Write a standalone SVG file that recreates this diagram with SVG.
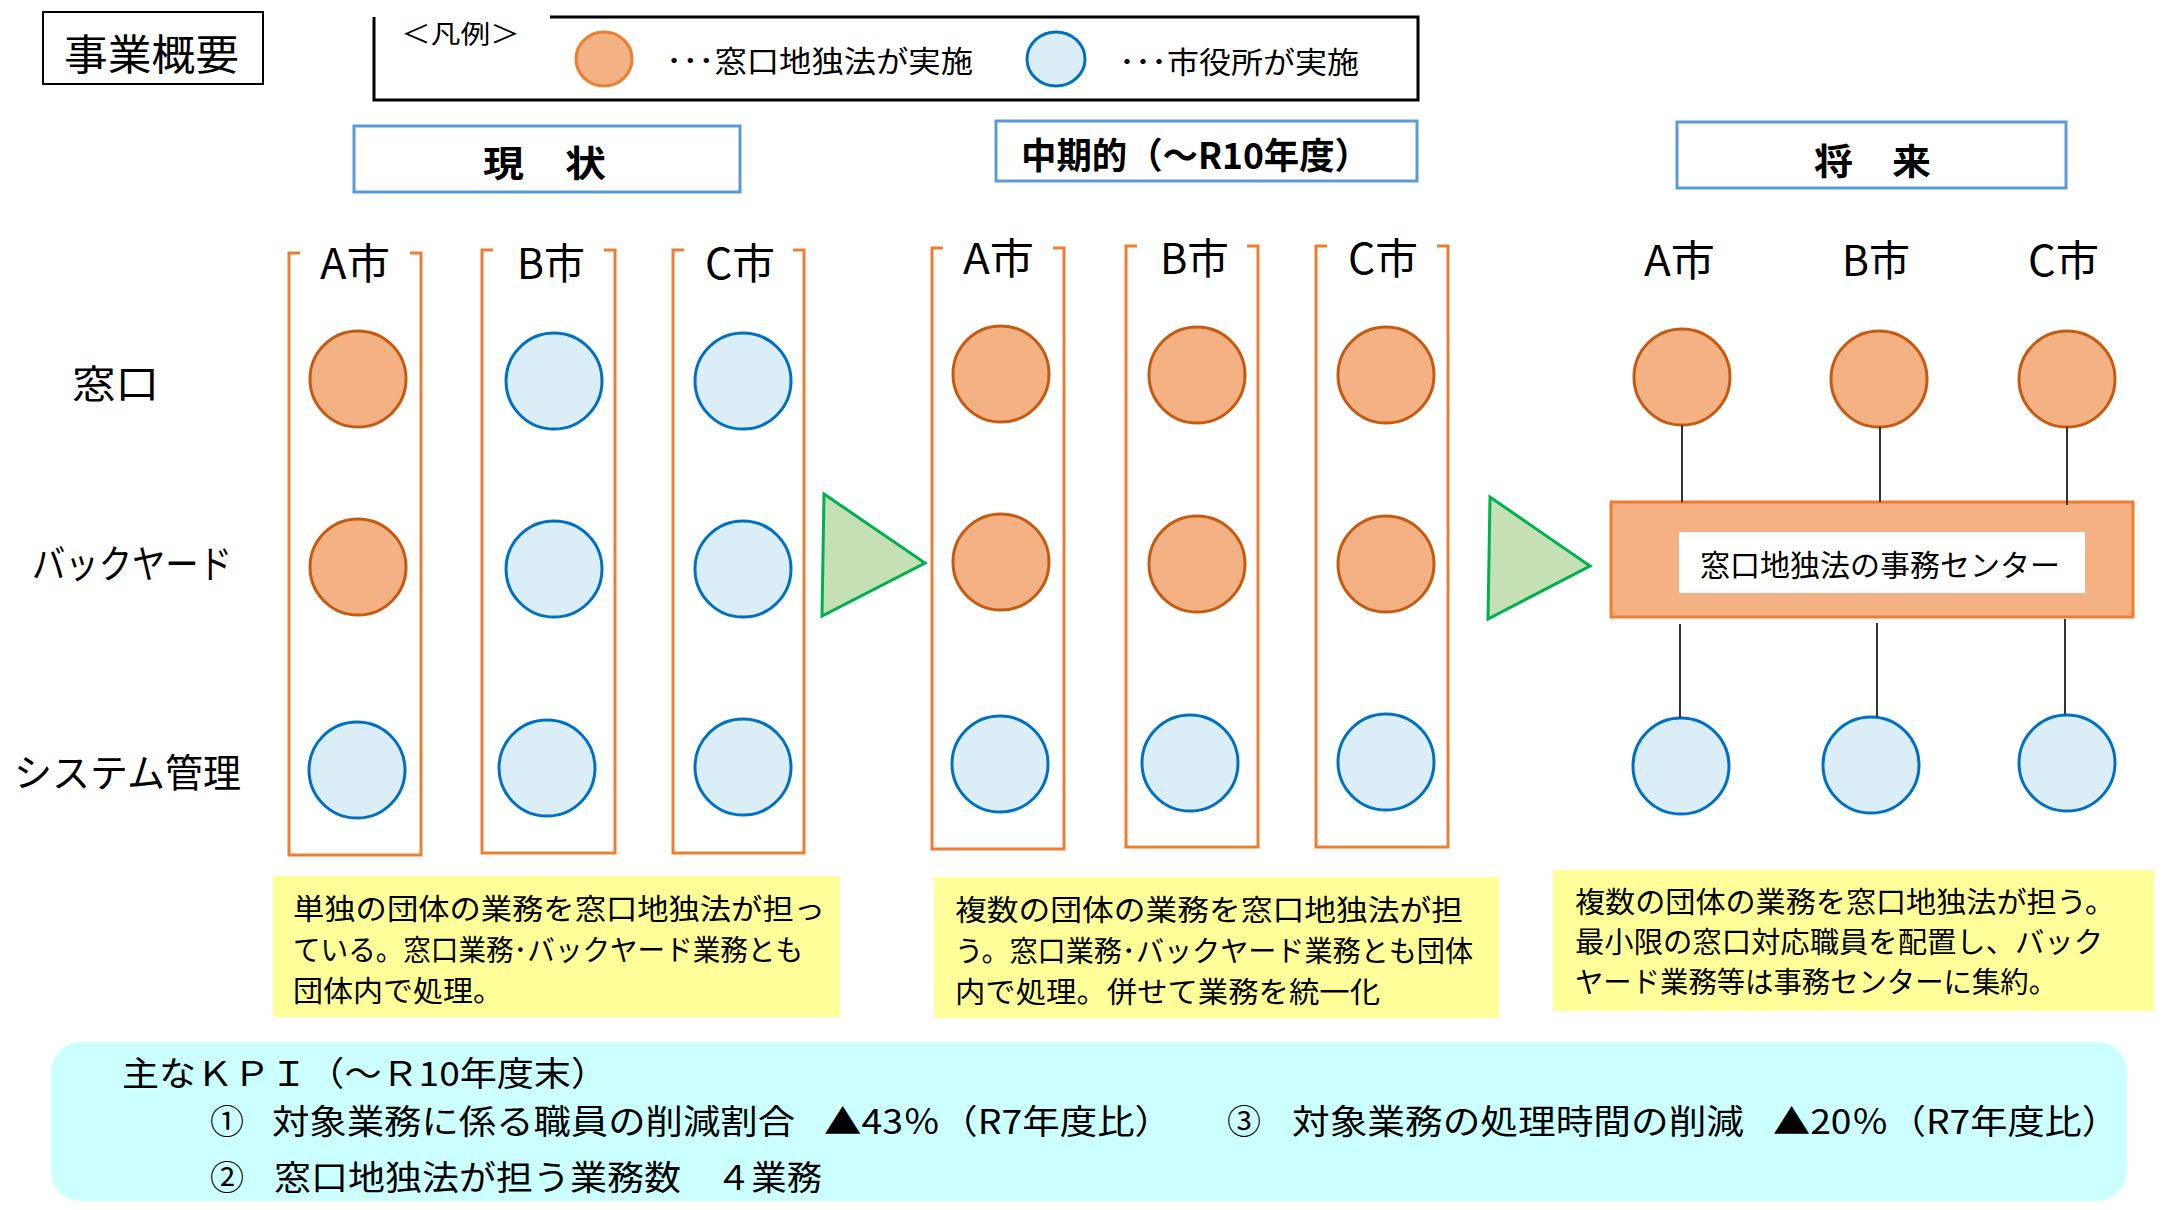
<svg xmlns="http://www.w3.org/2000/svg" width="2167" height="1210" viewBox="0 0 2167 1210">
<style>
text{font-family:"Noto Sans CJK JP","Noto Sans",sans-serif;fill:#000;dominant-baseline:central}
.o{fill:#f4b183;stroke:#c55a11;stroke-width:3}
.b{fill:#dbeef7;stroke:#0070c0;stroke-width:3}
.br{fill:none;stroke:#ed7d31;stroke-width:3}
.hd{fill:#fff;stroke:#5b9bd5;stroke-width:3}
.hdt{font-size:36px;font-weight:bold}
.col{font-size:42px}
.row{font-size:39px}
.note{fill:#ffff99}
.nt{font-size:29px}
.kt{font-size:34px}
.ln{stroke:#333;stroke-width:2}
.tri{fill:#c5e0b4;stroke:#00b050;stroke-width:3;stroke-linejoin:miter}
</style>
<rect width="2167" height="1210" fill="#fff"/>

<g id="title">
<rect x="43" y="12" width="220" height="72" fill="#fff" stroke="#000" stroke-width="2"/>
<text x="64" y="51" font-size="42" textLength="175" lengthAdjust="spacingAndGlyphs">事業概要</text>
</g>

<g id="legend">
<path d="M550,17 H1418 V100 H374 V17" fill="none" stroke="#000" stroke-width="3"/>
<text x="401" y="32" font-size="25" textLength="119" lengthAdjust="spacingAndGlyphs">＜凡例＞</text>
<ellipse cx="604" cy="59" rx="28" ry="27" class="o" style="stroke:#ed7d31"/>
<text x="666" y="59" font-size="30" textLength="307" lengthAdjust="spacingAndGlyphs">･･･窓口地独法が実施</text>
<ellipse cx="1056" cy="59" rx="29" ry="27" class="b"/>
<text x="1119" y="60" font-size="30" textLength="240" lengthAdjust="spacingAndGlyphs">･･･市役所が実施</text>
</g>

<g id="head-now">
<rect x="354" y="126" width="386" height="66" class="hd"/>
<text x="483" y="161" class="hdt" textLength="123" lengthAdjust="spacingAndGlyphs">現　状</text>
</g>
<g id="head-mid">
<rect x="996" y="121" width="421" height="60" class="hd"/>
<text x="1021" y="153" class="hdt" textLength="349" lengthAdjust="spacingAndGlyphs">中期的（～R10年度）</text>
</g>
<g id="head-future">
<rect x="1677" y="122" width="389" height="66" class="hd"/>
<text x="1814" y="159" class="hdt" textLength="117" lengthAdjust="spacingAndGlyphs">将　来</text>
</g>

<g id="row-labels">
<text x="72" y="381" class="row" textLength="87" lengthAdjust="spacingAndGlyphs">窓口</text>
<text x="32" y="561" class="row" textLength="200" lengthAdjust="spacingAndGlyphs">バックヤード</text>
<text x="14" y="770" class="row" textLength="227" lengthAdjust="spacingAndGlyphs">システム管理</text>
</g>

<g id="now-A">
<path class="br" d="M300,253 H289 V855 H421 V253 H410"/>
<text x="320" y="260" class="col" textLength="70" lengthAdjust="spacingAndGlyphs">A市</text>
<circle cx="358" cy="379" r="48" class="o"/>
<circle cx="358" cy="567" r="48" class="o"/>
<circle cx="357" cy="770" r="48" class="b"/>
</g>
<g id="now-B">
<path class="br" d="M493,250 H482 V853 H615 V250 H604"/>
<text x="517" y="260" class="col" textLength="68" lengthAdjust="spacingAndGlyphs">B市</text>
<circle cx="554" cy="381" r="48" class="b"/>
<circle cx="554" cy="569" r="48" class="b"/>
<circle cx="547" cy="768" r="48" class="b"/>
</g>
<g id="now-C">
<path class="br" d="M684,250 H673 V853 H804 V250 H793"/>
<text x="705" y="260" class="col" textLength="70" lengthAdjust="spacingAndGlyphs">C市</text>
<circle cx="743" cy="381" r="48" class="b"/>
<circle cx="743" cy="569" r="48" class="b"/>
<circle cx="743" cy="767" r="48" class="b"/>
</g>

<g id="mid-A">
<path class="br" d="M943,248 H932 V849 H1064 V248 H1053"/>
<text x="963" y="255" class="col" textLength="71" lengthAdjust="spacingAndGlyphs">A市</text>
<circle cx="1001" cy="374" r="48" class="o"/>
<circle cx="1001" cy="562" r="48" class="o"/>
<circle cx="1000" cy="764" r="48" class="b"/>
</g>
<g id="mid-B">
<path class="br" d="M1137,246 H1126 V847 H1258 V246 H1247"/>
<text x="1160" y="255" class="col" textLength="69" lengthAdjust="spacingAndGlyphs">B市</text>
<circle cx="1197" cy="375" r="48" class="o"/>
<circle cx="1197" cy="564" r="48" class="o"/>
<circle cx="1190" cy="763" r="48" class="b"/>
</g>
<g id="mid-C">
<path class="br" d="M1327,246 H1316 V847 H1448 V246 H1437"/>
<text x="1348" y="255" class="col" textLength="70" lengthAdjust="spacingAndGlyphs">C市</text>
<circle cx="1386" cy="375" r="48" class="o"/>
<circle cx="1386" cy="564" r="48" class="o"/>
<circle cx="1386" cy="762" r="48" class="b"/>
</g>

<g id="future-A">
<text x="1644" y="257" class="col" textLength="71" lengthAdjust="spacingAndGlyphs">A市</text>
<circle cx="1682" cy="377" r="48" class="o"/>
<circle cx="1681" cy="766" r="48" class="b"/>
</g>
<g id="future-B">
<text x="1842" y="257" class="col" textLength="68" lengthAdjust="spacingAndGlyphs">B市</text>
<circle cx="1879" cy="379" r="48" class="o"/>
<circle cx="1871" cy="765" r="48" class="b"/>
</g>
<g id="future-C">
<text x="2028" y="257" class="col" textLength="71" lengthAdjust="spacingAndGlyphs">C市</text>
<circle cx="2067" cy="379" r="48" class="o"/>
<circle cx="2067" cy="763" r="48" class="b"/>
</g>

<g id="center">
<rect x="1611" y="502" width="522" height="115" fill="#f4b183" stroke="#ed7d31" stroke-width="3"/>
<rect x="1679" y="532" width="406" height="61" fill="#fff"/>
<text x="1700" y="563" font-size="30" textLength="360" lengthAdjust="spacingAndGlyphs">窓口地独法の事務センター</text>
</g>

<g id="connectors">
<polygon class="tri" points="824,494 925,563 822,616"/>
<polygon class="tri" points="1490,497 1590,566 1488,619"/>
<line class="ln" x1="1682" y1="425" x2="1682" y2="502"/>
<line class="ln" x1="1880" y1="427" x2="1880" y2="502"/>
<line class="ln" x1="2067" y1="427" x2="2067" y2="505"/>
<line class="ln" x1="1680" y1="624" x2="1680" y2="718"/>
<line class="ln" x1="1877" y1="623" x2="1877" y2="717"/>
<line class="ln" x1="2065" y1="619" x2="2065" y2="714"/>
</g>

<g id="note-now">
<rect x="273" y="876" width="567" height="141" class="note"/>
<text x="293" y="907" class="nt" textLength="532" lengthAdjust="spacingAndGlyphs">単独の団体の業務を窓口地独法が担っ</text>
<text x="293" y="948" class="nt" textLength="510" lengthAdjust="spacingAndGlyphs">ている。窓口業務･バックヤード業務とも</text>
<text x="293" y="989" class="nt" textLength="210" lengthAdjust="spacingAndGlyphs">団体内で処理。</text>
</g>
<g id="note-mid">
<rect x="934" y="877" width="565" height="141" class="note"/>
<text x="955" y="908" class="nt" textLength="508" lengthAdjust="spacingAndGlyphs">複数の団体の業務を窓口地独法が担</text>
<text x="955" y="949" class="nt" textLength="518" lengthAdjust="spacingAndGlyphs">う。窓口業務･バックヤード業務とも団体</text>
<text x="955" y="990" class="nt" textLength="425" lengthAdjust="spacingAndGlyphs">内で処理。併せて業務を統一化</text>
</g>
<g id="note-future">
<rect x="1553" y="870" width="601" height="141" class="note"/>
<text x="1575" y="900" class="nt" textLength="540" lengthAdjust="spacingAndGlyphs">複数の団体の業務を窓口地独法が担う。</text>
<text x="1575" y="940" class="nt" textLength="528" lengthAdjust="spacingAndGlyphs">最小限の窓口対応職員を配置し、バック</text>
<text x="1575" y="980" class="nt" textLength="482" lengthAdjust="spacingAndGlyphs">ヤード業務等は事務センターに集約。</text>
</g>

<g id="kpi">
<rect x="51" y="1042" width="2076" height="159" rx="30" ry="30" fill="#ccffff"/>
<text x="122" y="1071" class="kt" textLength="486" lengthAdjust="spacingAndGlyphs">主なＫＰＩ（～Ｒ10年度末）</text>
<text y="1119" class="kt"><tspan x="210">①</tspan><tspan x="272" textLength="523" lengthAdjust="spacingAndGlyphs">対象業務に係る職員の削減割合</tspan><tspan x="824" textLength="348" lengthAdjust="spacingAndGlyphs">▲43％（R7年度比）</tspan></text>
<text y="1119" class="kt"><tspan x="1227">③</tspan><tspan x="1292" textLength="452" lengthAdjust="spacingAndGlyphs">対象業務の処理時間の削減</tspan><tspan x="1773" textLength="346" lengthAdjust="spacingAndGlyphs">▲20％（R7年度比）</tspan></text>
<text y="1175" class="kt"><tspan x="210">②</tspan><tspan x="274" textLength="407" lengthAdjust="spacingAndGlyphs">窓口地独法が担う業務数</tspan><tspan x="716" textLength="106" lengthAdjust="spacingAndGlyphs">４業務</tspan></text>
</g>
</svg>
